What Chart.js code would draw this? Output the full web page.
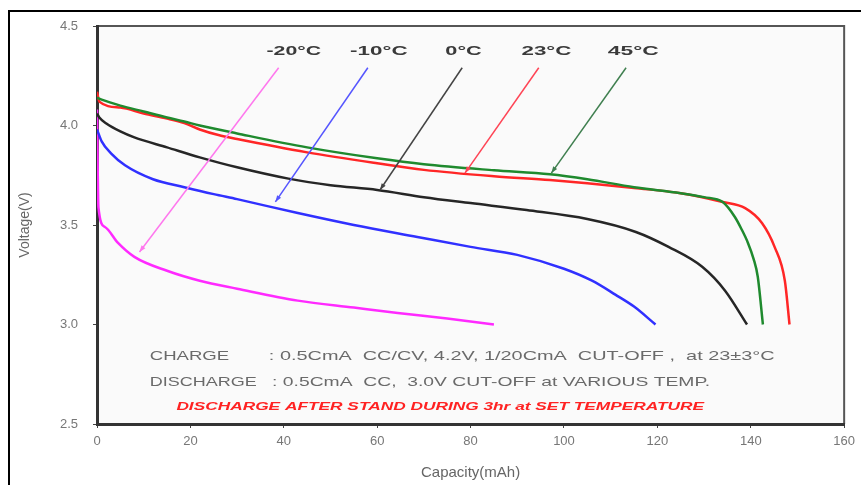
<!DOCTYPE html>
<html>
<head>
<meta charset="utf-8">
<script src="https://cdn.jsdelivr.net/npm/chart.js@4.4.1/dist/chart.umd.min.js"></script>
<style>
  html, body { margin: 0; padding: 0; background: #fff; }
  #wrap { width: 861px; height: 485px; position: relative; }
</style>
</head>
<body>
<div id="wrap"><canvas id="canvasDescarga" width="861" height="485"></canvas></div>
<script>
// datos de descarga (capacidad mAh, voltaje V)
var cap45 = [0, 1, 5, 10, 15, 18.7, 22, 30, 45, 60, 70, 85, 97, 105, 115, 125, 130, 134, 136.6, 138, 139.4, 140.6, 141.5, 142.6];
var volt45 = [4.14, 4.13, 4.10, 4.07, 4.04, 4.02, 4.00, 3.96, 3.89, 3.835, 3.805, 3.775, 3.755, 3.73, 3.69, 3.66, 3.64, 3.615, 3.54, 3.48, 3.41, 3.33, 3.24, 3.0];

var cap23 = [0, 0.5, 5, 10, 15, 18.7, 22, 26, 30, 45, 60, 70, 85, 97, 105, 115, 125, 134, 138.8, 142.4, 145.1, 147.3, 148.3];
var volt23 = [4.17, 4.12, 4.09, 4.06, 4.035, 4.012, 3.98, 3.952, 3.932, 3.865, 3.81, 3.777, 3.745, 3.726, 3.71, 3.686, 3.66, 3.616, 3.585, 3.51, 3.39, 3.22, 3.0];

var cap0 = [0, 0.5, 2, 5, 8, 15, 22, 30, 41, 50, 60, 70, 80, 92, 105, 115.4, 122.4, 129.6, 134.5, 139.2];
var volt0 = [4.06, 4.04, 4.01, 3.97, 3.94, 3.89, 3.84, 3.79, 3.733, 3.70, 3.676, 3.64, 3.61, 3.575, 3.53, 3.465, 3.39, 3.29, 3.17, 3.0];

var capM10 = [0, 1, 3, 6, 12, 18.7, 25, 30, 43, 55, 68.6, 80, 90, 100, 106, 111, 115, 119.6];
var voltM10 = [3.98, 3.92, 3.86, 3.80, 3.73, 3.69, 3.655, 3.63, 3.56, 3.50, 3.44, 3.39, 3.35, 3.28, 3.22, 3.15, 3.09, 3.0];

var capM20 = [0, 0.3, 1.7, 4.5, 8, 15, 22, 30, 43, 55, 64.4, 75, 85];
var voltM20 = [4.08, 3.59, 3.49, 3.41, 3.34, 3.27, 3.22, 3.18, 3.12, 3.085, 3.058, 3.03, 3.0];

// etiquetas de temperatura con su flecha (texto entre desde/hasta; linea desde x1,y1 hasta x2,y2)
var tempLabels = ['-20\u00b0C', '-10\u00b0C', '0\u00b0C', '23\u00b0C', '45\u00b0C'];
var labelDesde = [36.3, 54.2, 74.6, 90.9, 109.4];
var labelHasta = [48.0, 66.5, 82.4, 101.6, 120.3];
var labelVolt = 4.372;
var arrowFromCap = [38.9, 58, 78.2, 94.6, 113.3];
var arrowFromVolt = [4.29, 4.29, 4.29, 4.29, 4.29];
var arrowToCap = [9.1, 38.2, 60.6, 78.8, 97.3];
var arrowToVolt = [3.364, 3.616, 3.676, 3.761, 3.761];
var arrowColors = ['#ff77ee', '#5555ff', '#444444', '#ff4455', '#3f7f4f'];

// notas de condiciones: [texto, desde, hasta, voltaje]
var notaCharge = [['CHARGE', 11.3, 28.3, 2.84], [': 0.5CmA  CC/CV, 4.2V, 1/20CmA  CUT-OFF ,  at 23\u00b13\u00b0C', 36.8, 145.1, 2.84]];
var notaDischarge = [['DISCHARGE', 11.3, 34.2, 2.71], [': 0.5CmA  CC,  3.0V CUT-OFF at VARIOUS TEMP.', 37.5, 131.3, 2.71]];
var notaRoja = ['DISCHARGE AFTER STAND DURING 3hr at SET TEMPERATURE', 17, 130, 2.585];

function toPoints(xs, ys){
	var pts = [];
	xs.forEach(function(x, i){ pts.push({x: x, y: ys[i]}); });
	return pts;
}

function serie(label, xs, ys, color){
	return {
		label: label,
		data: toPoints(xs, ys),
		showLine: true,
		borderColor: color,
		backgroundColor: color,
		borderWidth: 2.5,
		pointRadius: 0,
		cubicInterpolationMode: 'monotone'
	};
}

// texto estirado para ocupar el ancho de la figura original
function textoAncho(ctx, txt, x1, x2, y){
	var w = ctx.measureText(txt).width;
	ctx.save();
	ctx.translate(x1, y);
	ctx.scale((x2 - x1) / w, 1);
	ctx.fillText(txt, 0, 0);
	ctx.restore();
}

var marcoPlugin = {
	id: 'marco',
	beforeDraw: function(chart){
		var ctx = chart.ctx, a = chart.chartArea;
		ctx.save();
		ctx.fillStyle = '#fafafa';
		ctx.fillRect(a.left, a.top, a.right - a.left, a.bottom - a.top);
		// marco exterior
		ctx.strokeStyle = '#000';
		ctx.lineWidth = 2;
		ctx.beginPath();
		ctx.moveTo(9, chart.height);
		ctx.lineTo(9, 11);
		ctx.lineTo(chart.width, 11);
		ctx.stroke();
		// borde superior y derecho del area
		ctx.strokeStyle = '#555';
		ctx.lineWidth = 2;
		ctx.beginPath();
		ctx.moveTo(a.left, a.top);
		ctx.lineTo(a.right, a.top);
		ctx.lineTo(a.right, a.bottom);
		ctx.stroke();
		ctx.restore();
	},
	afterDatasetsDraw: function(chart){
		var ctx = chart.ctx;
		var sx = chart.scales.x, sy = chart.scales.y;
		ctx.save();
		ctx.textAlign = 'left';
		ctx.textBaseline = 'middle';
		// flechas
		tempLabels.forEach(function(t, i){
			var x1 = sx.getPixelForValue(arrowFromCap[i]), y1 = sy.getPixelForValue(arrowFromVolt[i]);
			var x2 = sx.getPixelForValue(arrowToCap[i]), y2 = sy.getPixelForValue(arrowToVolt[i]);
			ctx.strokeStyle = arrowColors[i];
			ctx.fillStyle = arrowColors[i];
			ctx.lineWidth = 1.5;
			ctx.beginPath();
			ctx.moveTo(x1, y1);
			ctx.lineTo(x2, y2);
			ctx.stroke();
			var ang = Math.atan2(y2 - y1, x2 - x1);
			ctx.beginPath();
			ctx.moveTo(x2, y2);
			ctx.lineTo(x2 - 7 * Math.cos(ang - 0.35), y2 - 7 * Math.sin(ang - 0.35));
			ctx.lineTo(x2 - 7 * Math.cos(ang + 0.35), y2 - 7 * Math.sin(ang + 0.35));
			ctx.closePath();
			ctx.fill();
			ctx.fillStyle = '#3a3a3a';
			ctx.font = 'bold 12px "Liberation Sans", Arial, sans-serif';
			textoAncho(ctx, t, sx.getPixelForValue(labelDesde[i]), sx.getPixelForValue(labelHasta[i]), sy.getPixelForValue(labelVolt));
		});
		// notas
		ctx.fillStyle = '#6a6a6a';
		ctx.font = '13px "Liberation Sans", Arial, sans-serif';
		notaCharge.concat(notaDischarge).forEach(function(n){
			textoAncho(ctx, n[0], sx.getPixelForValue(n[1]), sx.getPixelForValue(n[2]), sy.getPixelForValue(n[3]));
		});
		ctx.fillStyle = '#ff2222';
		ctx.font = 'italic bold 10.5px "Liberation Sans", Arial, sans-serif';
		textoAncho(ctx, notaRoja[0], sx.getPixelForValue(notaRoja[1]), sx.getPixelForValue(notaRoja[2]), sy.getPixelForValue(notaRoja[3]));
		ctx.restore();
	}
};

var ctx = document.getElementById('canvasDescarga').getContext('2d');
window.myChart = new Chart(ctx, {
	type: 'scatter',
	data: {
		datasets: [
			serie('45\u00b0C', cap45, volt45, '#1f8a2e'),
			serie('23\u00b0C', cap23, volt23, '#ff2626'),
			serie('0\u00b0C', cap0, volt0, '#262626'),
			serie('-10\u00b0C', capM10, voltM10, '#3030ff'),
			serie('-20\u00b0C', capM20, voltM20, '#ff2aff')
		]
	},
	options: {
		responsive: false,
		animation: false,
		layout: { padding: { top: 26, right: 11, left: 0, bottom: 0 } },
		plugins: {
			legend: { display: false },
			tooltip: { enabled: false }
		},
		scales: {
			x: {
				type: 'linear',
				min: 0,
				max: 160,
				afterFit: function(s){ s.height = 61; },
				border: { display: true, color: '#333', width: 3 },
				grid: { drawOnChartArea: false, drawTicks: true, tickLength: 4, color: '#444' },
				ticks: { stepSize: 20, color: '#777', padding: 6, font: { family: '"Liberation Sans", Arial, sans-serif', size: 13 } },
				title: { display: true, text: 'Capacity(mAh)', color: '#666', padding: { top: 0, bottom: 3 }, font: { family: '"Liberation Sans", Arial, sans-serif', size: 15 } }
			},
			y: {
				type: 'linear',
				min: 2.5,
				max: 4.5,
				afterFit: function(s){ s.width = 97; },
				border: { display: true, color: '#333', width: 3 },
				grid: { drawOnChartArea: false, drawTicks: true, tickLength: 4, color: '#444' },
				ticks: {
					stepSize: 0.5,
					color: '#777',
					padding: 15,
					font: { family: '"Liberation Sans", Arial, sans-serif', size: 13 },
					callback: function(v){ return v.toFixed(1); }
				},
				title: { display: true, text: 'Voltage(V)', color: '#666', padding: { top: 17, bottom: 0 }, font: { family: '"Liberation Sans", Arial, sans-serif', size: 14 } }
			}
		}
	},
	plugins: [marcoPlugin]
});
</script>
</body>
</html>
